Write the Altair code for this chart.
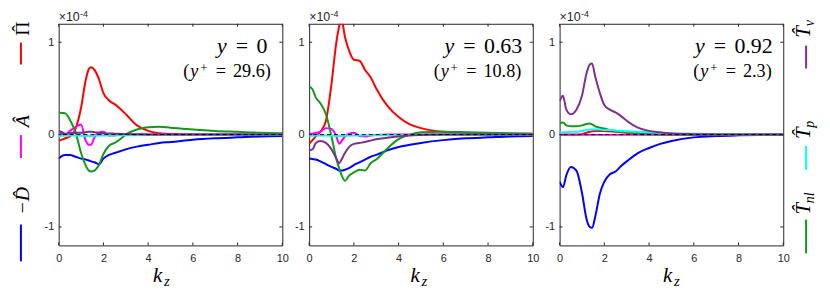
import altair as alt
import pandas as pd

# ---------------- data (values in units of 1e-4) ----------------
KZ = [0, 0.15, 0.3, 0.5, 0.75, 1.0, 1.2, 1.35, 1.45, 1.6, 1.8, 2.0, 2.25, 2.5,
      2.75, 3.0, 3.5, 4.0, 4.5, 5.0, 6.0, 7.0, 8.0, 9.0, 10.0]

SERIES = ["D", "Pi", "A", "Tnl", "Tp", "Tv"]
COLORS = ["#0000FF", "#FF0000", "#FF00FF", "#119A1A", "#00FFFF", "#7E2F8E"]

# panel y = 0
y0_D = [-0.26, -0.23, -0.22, -0.22, -0.24, -0.26, -0.27, -0.28, -0.29, -0.30, -0.32, -0.26, -0.22,
        -0.20, -0.18, -0.16, -0.13, -0.11, -0.09, -0.08, -0.055, -0.04, -0.03, -0.02, -0.015]
y0_Pi = [-0.065, -0.055, -0.04, -0.02, 0.06, 0.29, 0.58, 0.71, 0.73, 0.70, 0.60, 0.45, 0.37,
         0.33, 0.28, 0.22, 0.10, 0.04, 0.015, 0.006, 0.002, 0.001, 0.0, 0.0, 0.0]
y0_A = [0.03, 0.01, 0.0, 0.04, 0.08, 0.11, -0.06, -0.11, -0.11, -0.03, 0.02, 0.03, -0.01,
        -0.01, 0.0, 0.0, 0.0, 0.0, 0.0, 0.0, 0.0, 0.0, 0.0, 0.0, 0.0]
y0_Tnl = [0.24, 0.235, 0.23, 0.16, 0.03, -0.20, -0.33, -0.39, -0.40, -0.39, -0.33, -0.21, -0.12,
          -0.09, -0.05, 0.0, 0.055, 0.08, 0.085, 0.075, 0.055, 0.04, 0.03, 0.02, 0.015]
y0_Tp = [-0.015, -0.012, -0.01, -0.01, -0.01, -0.012, -0.015, -0.015, -0.015, -0.012, -0.01, -0.01,
         -0.01, -0.008, -0.008, -0.007, -0.006, -0.005, -0.004, -0.003, -0.002, -0.002, -0.001,
         -0.001, -0.001]
y0_Tv = [0.04, 0.025, 0.01, 0.015, 0.02, 0.02, 0.025, 0.03, 0.03, 0.025, 0.02, 0.015, 0.012,
         0.01, 0.008, 0.006, 0.004, 0.002, 0.001, 0.0, 0.0, 0.0, 0.0, 0.0, 0.0]

# panel y = 0.63
y63_D = [-0.26, -0.265, -0.27, -0.29, -0.32, -0.35, -0.37, -0.39, -0.39, -0.38, -0.36, -0.33, -0.30,
         -0.27, -0.24, -0.22, -0.17, -0.135, -0.11, -0.09, -0.06, -0.04, -0.03, -0.02, -0.015]
y63_Pi = [-0.10, -0.06, -0.02, 0.03, 0.15, 0.55, 0.97, 1.18, 1.24, 1.06, 0.90, 0.81, 0.80,
          0.70, 0.62, 0.50, 0.31, 0.19, 0.11, 0.07, 0.03, 0.02, 0.015, 0.01, 0.01]
y63_A = [0.01, 0.01, 0.02, 0.03, 0.07, 0.06, -0.01, -0.10, -0.07, -0.02, 0.01, 0.02, -0.015,
         -0.02, -0.01, -0.005, 0.0, 0.0, 0.0, 0.0, 0.0, 0.0, 0.0, 0.0, 0.0]
y63_Tnl = [0.52, 0.49, 0.40, 0.34, 0.22, -0.02, -0.25, -0.37, -0.44, -0.50, -0.44, -0.41, -0.38,
           -0.39, -0.31, -0.27, -0.15, -0.05, 0.0, 0.025, 0.03, 0.025, 0.02, 0.015, 0.01]
y63_Tp = [-0.012, -0.012, -0.01, -0.01, -0.01, -0.012, -0.014, -0.015, -0.015, -0.012, -0.01,
          -0.01, -0.01, -0.008, -0.008, -0.007, -0.006, -0.005, -0.004, -0.003, -0.002, -0.002,
          -0.001, -0.001, -0.001]
y63_Tv = [-0.17, -0.16, -0.09, -0.07, -0.09, -0.16, -0.25, -0.31, -0.27, -0.20, -0.13, -0.10, -0.09,
          -0.08, -0.065, -0.05, -0.035, -0.02, -0.01, -0.005, 0.0, 0.0, 0.0, 0.0, 0.0]

# panel y = 0.92
y92_D = [-0.51, -0.57, -0.44, -0.35, -0.39, -0.63, -0.91, -1.0, -1.01, -0.88, -0.64, -0.51, -0.43,
         -0.40, -0.34, -0.29, -0.20, -0.145, -0.10, -0.07, -0.03, -0.015, -0.008, -0.004, -0.002]
y92_Pi = [0.0, 0.0, 0.0, 0.0, 0.0, 0.005, 0.02, 0.03, 0.035, 0.04, 0.04, 0.04, 0.035,
          0.03, 0.025, 0.02, 0.01, 0.005, 0.0, 0.0, 0.0, 0.0, 0.0, 0.0, 0.0]
y92_A = [-0.003] * 25
y92_Tnl = [0.12, 0.13, 0.10, 0.09, 0.09, 0.10, 0.115, 0.12, 0.11, 0.09, 0.075, 0.065, 0.05,
           0.04, 0.03, 0.025, 0.015, 0.01, 0.005, 0.003, 0.001, 0.0, 0.0, 0.0, 0.0]
y92_Tp = [0.02, 0.025, 0.025, 0.03, 0.03, 0.04, 0.05, 0.055, 0.055, 0.055, 0.055, 0.05, 0.05,
          0.045, 0.04, 0.035, 0.03, 0.025, 0.02, 0.015, 0.01, 0.005, 0.003, 0.002, 0.001]
y92_Tv = [0.36, 0.42, 0.27, 0.22, 0.27, 0.42, 0.66, 0.76, 0.77, 0.62, 0.45, 0.32, 0.27,
          0.24, 0.20, 0.15, 0.075, 0.04, 0.025, 0.012, 0.005, 0.002, 0.0, 0.0, 0.0]

PANELS = [
    {"D": y0_D, "Pi": y0_Pi, "A": y0_A, "Tnl": y0_Tnl, "Tp": y0_Tp, "Tv": y0_Tv},
    {"D": y63_D, "Pi": y63_Pi, "A": y63_A, "Tnl": y63_Tnl, "Tp": y63_Tp, "Tv": y63_Tv},
    {"D": y92_D, "Pi": y92_Pi, "A": y92_A, "Tnl": y92_Tnl, "Tp": y92_Tp, "Tv": y92_Tv},
]
Y_LABELS = ["0", "0.63", "0.92"]
YPLUS_LABELS = ["29.6", "10.8", "2.3"]

X_TICKS = [0, 2, 4, 6, 8, 10]
Y_TICKS = [-1, 0, 1]

# ---------------- styling ----------------
W, H = 225, 223
TL = 3
FRAME = "#262626"
SERIF = "Liberation Serif"
SANS = "Liberation Sans"
ONE = pd.DataFrame({"o": [0]})
XS = alt.Scale(domain=[0, 10], nice=False, zero=False)
YS = alt.Scale(domain=[-1.2, 1.2], nice=False, zero=False)
AXC = dict(title=None, ticks=False, domain=False, grid=False, labelFont=SANS,
           labelFontSize=11, labelColor=FRAME, labelFlush=False)
AX_X = alt.Axis(values=X_TICKS, labelPadding=7, **AXC)
AX_Y = alt.Axis(values=Y_TICKS, labelPadding=5,
                labelExpr="replace(datum.label, '\u2212', '-')", **AXC)


def txt(s, x, y, size, font=SERIF, style="normal", align="left",
        baseline="alphabetic", angle=0, color="black"):
    kw = dict(text=s, font=font, fontSize=size, fontStyle=style, align=align,
              baseline=baseline, color=color)
    if angle:
        kw["angle"] = angle
    return alt.Chart(ONE).mark_text(**kw).encode(x=alt.value(x), y=alt.value(y))


def seg(x, y0, y1, color):
    return alt.Chart(ONE).mark_rule(color=color, strokeWidth=2).encode(
        x=alt.value(x), y=alt.value(y0), y2=alt.value(y1))


def vwidth(s):
    return sum(0.278 if c == "." else (0.389 if c == ")" else 0.5) for c in s)


def annotation(yval, ypval, e1, e2):
    out = []
    s1 = 22.0
    y1 = 29.7
    tot1 = 0.49 + 0.278 + 0.778 + 0.278 + vwidth(yval)
    st = e1 - tot1 * s1
    out.append(txt("y", st + 0.245 * s1, y1, s1, style="italic", align="center"))
    out.append(txt("=", st + (0.49 + 0.278 + 0.389) * s1, y1, s1, align="center"))
    out.append(txt(yval, st + (0.49 + 0.278 + 0.778 + 0.278) * s1, y1, s1))
    s2 = 18.3
    y2 = 54.0
    tail = ypval + ")"
    tot2 = 0.389 + 0.49 + 0.545 + 0.278 + 0.778 + 0.278 + vwidth(tail)
    st = e2 - tot2 * s2
    out.append(txt("(", st + 0.1945 * s2, y2, s2, align="center"))
    out.append(txt("y", st + (0.389 + 0.245) * s2, y2, s2, style="italic", align="center"))
    out.append(txt("+", st + (0.389 + 0.49 + 0.2725) * s2, y2 - 5.5, 12.8, align="center"))
    out.append(txt("=", st + (0.389 + 0.49 + 0.545 + 0.278 + 0.389) * s2, y2, s2, align="center"))
    out.append(txt(tail, st + (0.389 + 0.49 + 0.545 + 0.278 + 0.778 + 0.278) * s2, y2, s2))
    return out


def make_panel(i, extra, kx, e1):
    rows = []
    for s in SERIES:
        for k, v in zip(KZ, PANELS[i][s]):
            rows.append({"kz": k, "value": v, "series": s})
    df = pd.DataFrame(rows)
    lines = alt.Chart(df).mark_line(clip=True, strokeWidth=2, interpolate="monotone").encode(
        x=alt.X("kz:Q", scale=XS, axis=AX_X),
        y=alt.Y("value:Q", scale=YS, axis=AX_Y),
        color=alt.Color("series:N", scale=alt.Scale(domain=SERIES, range=COLORS), legend=None),
    )
    zero = alt.Chart(ONE).mark_rule(color="black", strokeWidth=1, strokeDash=[4, 3]).encode(
        y=alt.Y("o:Q", scale=YS, axis=AX_Y))
    xt = pd.DataFrame({"t": X_TICKS})
    yt = pd.DataFrame({"t": Y_TICKS})
    ax = alt.X("t:Q", scale=XS, axis=AX_X)
    ay = alt.Y("t:Q", scale=YS, axis=AX_Y)
    bx = alt.Chart(xt).mark_rule(color=FRAME, strokeWidth=1)
    by = alt.Chart(yt).mark_rule(color=FRAME, strokeWidth=1)
    ticks = [
        bx.encode(x=ax, y=alt.value(0), y2=alt.value(TL)),
        bx.encode(x=ax, y=alt.value(H), y2=alt.value(H - TL)),
        by.encode(y=ay, x=alt.value(0), x2=alt.value(TL)),
        by.encode(y=ay, x=alt.value(W), x2=alt.value(W - TL)),
    ]
    texts = [
        txt("\u00d710", 0, -13, 12.5, font=SANS, baseline="top", color=FRAME),
        txt("-4", 21.5, -14, 9, font=SANS, baseline="top", color=FRAME),
        txt("k", kx, 260, 21, style="italic"),
        txt("z", kx + 11, 263.5, 15, style="italic"),
    ] + annotation(Y_LABELS[i], YPLUS_LABELS[i], e1, 215)
    layers = [lines, zero] + ticks + texts + extra
    return alt.layer(*layers).properties(width=W, height=H)


# left legend (panel 1) and anchor
LG = 20
left_legend = [
    alt.Chart(ONE).mark_rule(opacity=0, strokeWidth=0).encode(
        x=alt.value(-50), x2=alt.value(-50), y=alt.value(-13), y2=alt.value(-13)),
    txt("\u03a0", -30, 12, LG, angle=270),
    txt("\u02c6", -33.5, 4.8, LG, align="center", angle=270),
    seg(-38, 19, 41, "#FF0000"),
    txt("A\u0302", -30, 104, LG, style="italic", angle=270),
    seg(-38, 112, 135, "#FF00FF"),
    txt("\u2212D\u0302", -30, 192, LG, style="italic", angle=270),
    seg(-38, 202, 239, "#0000FF"),
]

TX = 252
right_legend = [
    txt("T\u0302", TX, 14, LG + 1, style="italic", angle=270),
    txt("v", TX + 4, 2.5, 14, style="italic", angle=270),
    seg(248, 22, 45, "#7E2F8E"),
    txt("T\u0302", TX, 116, LG + 1, style="italic", angle=270),
    txt("p", TX + 4, 104.5, 14, style="italic", angle=270),
    seg(248, 123, 147, "#00FFFF"),
    txt("T\u0302", TX, 192, LG + 1, style="italic", angle=270),
    txt("nl", TX + 4, 180.5, 14, style="italic", angle=270),
    seg(248, 197, 231, "#119A1A"),
]

p1 = make_panel(0, left_legend, 95, 210)
p2 = make_panel(1, [], 102, 215)
p3 = make_panel(2, right_legend, 104, 215)

chart = alt.hconcat(p1, p2, p3, spacing=27, bounds="flush").properties(
    padding={"left": 0, "top": 0, "right": 4, "bottom": 2}
).configure_view(stroke=FRAME, strokeWidth=1)

chart.save("out.html", embed_options={"renderer": "svg", "actions": False})
